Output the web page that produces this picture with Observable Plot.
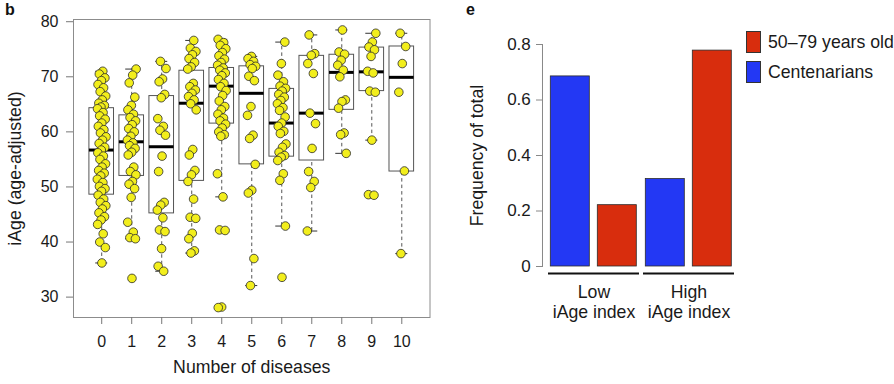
<!DOCTYPE html>
<html>
<head>
<meta charset="utf-8">
<script src="https://cdn.jsdelivr.net/npm/d3@7"></script>
<script src="https://cdn.jsdelivr.net/npm/@observablehq/plot@0.6"></script>
<style>
  body { margin: 0; background: #fff; font-family: "Liberation Sans", Arial, sans-serif; }
  #wrap { position: relative; width: 894px; height: 384px; overflow: hidden; background: #fff; }
  .panel { position: absolute; top: 0; }
  .tag { position: absolute; font-weight: bold; font-size: 16px; line-height: 16px; color: #111; }
  #legend { position: absolute; left: 746px; top: 30.7px; }
  .row { display: flex; align-items: center; height: 22px; margin-bottom: 8.3px; }
  .sw { width: 14.7px; height: 22px; box-sizing: border-box; border: 1px solid #333; margin-right: 7.3px; }
  .lab { font-size: 17.7px; line-height: 22px; color: #1a1a1a; white-space: nowrap; }
</style>
</head>
<body>
<div id="wrap">
  <div id="left" class="panel" style="left:0px"></div>
  <div id="right" class="panel" style="left:444px"></div>
  <div class="tag" style="left:5px;top:1.5px">b</div>
  <div class="tag" style="left:466px;top:1.5px">e</div>
  <div id="legend"></div>
</div>
<script>
const FONT = '"Liberation Sans", Arial, sans-serif';

// ---------- Panel b: iAge (age-adjusted) by number of diseases ----------
const diseaseCounts = [0, 1, 2, 3, 4, 5, 6, 7, 8, 9, 10];

const iAge0 = [71.0, 70.5, 69.8, 69.3, 68.6, 68.0, 67.3, 66.5, 65.8, 65.2, 64.8, 64.5, 64.2, 63.5, 62.9, 62.3, 61.6, 61.0, 60.4, 59.8, 59.1, 58.5, 57.9, 57.2, 56.7, 56.2, 55.6, 55.0, 54.2, 53.6, 53.0, 52.5, 52.0, 51.4, 50.8, 50.1, 49.7, 49.2, 48.5, 47.8, 47.2, 46.6, 46.0, 45.3, 44.6, 44.0, 43.2, 41.5, 40.0, 39.0, 36.2];
const iAge1 = [71.4, 70.3, 68.9, 66.3, 64.8, 64.0, 63.2, 62.6, 62.0, 61.3, 60.6, 60.0, 59.2, 58.5, 58.0, 57.5, 57.0, 56.3, 55.8, 53.6, 52.8, 52.2, 51.0, 50.5, 49.7, 48.1, 43.6, 41.8, 40.8, 40.6, 33.4];
const iAge2 = [72.8, 71.5, 69.6, 69.1, 66.8, 66.2, 62.4, 61.0, 60.3, 59.4, 55.6, 52.8, 47.2, 46.7, 45.8, 44.4, 42.2, 41.9, 38.8, 35.6, 34.7];
const iAge3 = [76.6, 75.2, 74.6, 74.0, 73.3, 72.6, 71.8, 71.4, 68.8, 68.2, 67.6, 67.0, 66.4, 65.8, 65.1, 64.0, 56.8, 55.8, 53.0, 52.2, 51.0, 47.8, 44.5, 44.3, 41.6, 40.6, 38.4, 38.0];
const iAge4 = [76.8, 76.2, 75.7, 75.1, 74.4, 73.8, 73.2, 72.6, 72.1, 71.6, 71.2, 70.7, 70.2, 69.5, 68.8, 68.2, 67.5, 66.6, 65.6, 64.6, 64.0, 63.2, 62.5, 62.0, 61.4, 60.7, 60.0, 59.5, 59.2, 52.4, 48.2, 42.2, 42.1, 28.2, 28.1];
const iAge5 = [73.7, 73.3, 72.8, 72.2, 71.9, 71.5, 70.1, 69.3, 64.6, 63.0, 59.4, 58.8, 54.1, 49.4, 48.9, 37.0, 32.1];
const iAge6 = [76.3, 72.4, 70.3, 69.1, 68.3, 67.9, 67.4, 66.8, 66.3, 65.7, 65.1, 64.4, 63.9, 62.7, 61.6, 61.0, 60.1, 59.7, 57.8, 57.2, 56.3, 55.7, 55.4, 54.8, 52.4, 51.2, 42.9, 33.6];
const iAge7 = [77.6, 74.2, 73.9, 72.4, 70.6, 63.4, 61.5, 57.0, 52.8, 51.0, 49.9, 42.0];
const iAge8 = [78.5, 74.5, 74.1, 73.0, 72.1, 71.2, 70.0, 65.8, 65.5, 64.3, 59.8, 59.5, 56.1];
const iAge9 = [77.9, 76.3, 75.4, 74.9, 73.7, 71.0, 70.7, 67.4, 67.2, 58.5, 48.6, 48.5];
const iAge10 = [77.9, 75.5, 72.4, 67.2, 52.9, 37.9];
const iAgeByCount = [iAge0, iAge1, iAge2, iAge3, iAge4, iAge5, iAge6, iAge7, iAge8, iAge9, iAge10];

const boxQ1 = [48.6, 52.0, 45.2, 51.1, 61.5, 54.1, 55.5, 54.8, 64.0, 67.4, 52.8];
const boxMedian = [56.7, 58.2, 57.3, 65.2, 68.3, 67.0, 61.6, 63.4, 70.8, 70.9, 69.9];
const boxQ3 = [64.3, 63.0, 66.5, 71.1, 71.6, 71.9, 67.8, 73.8, 74.0, 75.3, 75.5];
const whiskerLow = [36.2, 40.6, 34.7, 38.0, 48.2, 32.1, 42.9, 42.0, 56.1, 58.5, 37.9];
const whiskerHigh = [71.0, 71.4, 72.8, 76.6, 76.8, 73.7, 76.3, 77.6, 78.5, 77.9, 77.9];
const iAgeTicks = [30, 40, 50, 60, 70, 80];

// deterministic horizontal spread of the dots (position only)
const spread = (i, j) => ((((j + 1) * 0.6180339887 + i * 0.37) % 1) - 0.5) * 0.3;

const boxes = diseaseCounts.map((n, i) => ({
  n, q1: boxQ1[i], med: boxMedian[i], q3: boxQ3[i], lo: whiskerLow[i], hi: whiskerHigh[i]
}));
const dots = diseaseCounts.flatMap((n, i) => iAgeByCount[i].map((v, j) => ({n, v, xj: n + spread(i, j)})));

const leftPlot = Plot.plot({
  width: 445, height: 384,
  marginLeft: 73, marginRight: 15.5, marginTop: 19, marginBottom: 67,
  style: {fontSize: "16px", fontFamily: FONT, color: "#1a1a1a", background: "transparent"},
  x: {domain: [-0.94, 10.94]},
  y: {domain: [26.3, 80.4]},
  marks: [
    Plot.ruleX(boxes, {x: "n", y1: "lo", y2: "q1", stroke: "#555", strokeDasharray: "3.5,3"}),
    Plot.ruleX(boxes, {x: "n", y1: "q3", y2: "hi", stroke: "#555", strokeDasharray: "3.5,3"}),
    Plot.ruleY(boxes, {y: "lo", x1: d => d.n - 0.2, x2: d => d.n + 0.2, stroke: "#333"}),
    Plot.ruleY(boxes, {y: "hi", x1: d => d.n - 0.2, x2: d => d.n + 0.2, stroke: "#333"}),
    Plot.rect(boxes, {x1: d => d.n - 0.41, x2: d => d.n + 0.41, y1: "q1", y2: "q3", fill: "white", stroke: "#555", strokeWidth: 1}),
    Plot.ruleY(boxes, {y: "med", x1: d => d.n - 0.41, x2: d => d.n + 0.41, stroke: "#000", strokeWidth: 3}),
    Plot.dot(dots, {x: "xj", y: "v", r: 4.3, fill: "#F2EE1C", stroke: "#2a2a2a", strokeWidth: 0.8}),
    Plot.frame({stroke: "#8c8c8c"}),
    Plot.axisX({ticks: diseaseCounts, tickSize: 7, tickPadding: 11, stroke: "#777", label: null, tickFormat: d => String(d)}),
    Plot.axisY({ticks: iAgeTicks, tickSize: 7, tickPadding: 8, stroke: "#777", label: null, tickFormat: d => String(d)}),
    Plot.text(["Number of diseases"], {frameAnchor: "bottom", textAnchor: "middle", lineAnchor: "bottom", dy: 55.7, fontSize: 17.7, fill: "#1a1a1a"}),
    Plot.text(["iAge (age-adjusted)"], {frameAnchor: "left", textAnchor: "middle", rotate: -90, lineAnchor: "bottom", dx: -52.6, fontSize: 17.7, fill: "#1a1a1a"})
  ]
});
document.getElementById("left").appendChild(leftPlot);

// ---------- Panel e: frequency of total by iAge index ----------
const iAgeGroups = ["Low", "High"];
const groupLabels = ["Low\niAge index", "High\niAge index"];
const cohorts = ["Centenarians", "50–79 years old"];
const cohortColors = ["#2338F4", "#D82D0D"];
const centenarianFreq = [0.685, 0.315];
const midlifeFreq = [0.221, 0.778];
const freqTicks = [0, 0.2, 0.4, 0.6, 0.8];
const legendOrder = ["50–79 years old", "Centenarians"];

const barData = iAgeGroups.flatMap((g, i) => [
  {group: g, cohort: cohorts[0], value: centenarianFreq[i]},
  {group: g, cohort: cohorts[1], value: midlifeFreq[i]}
]);

const rightPlot = Plot.plot({
  width: 450, height: 384,
  marginLeft: 103.7, marginRight: 159, marginTop: 44, marginBottom: 118,
  style: {fontSize: "17px", fontFamily: FONT, color: "#1a1a1a", background: "transparent"},
  fx: {domain: iAgeGroups, paddingInner: 0.042, paddingOuter: 0},
  x: {domain: cohorts, paddingInner: 0.18, paddingOuter: 0.05, axis: null},
  y: {domain: [0, 0.8]},
  color: {domain: cohorts, range: cohortColors},
  marks: [
    Plot.barY(barData, {fx: "group", x: "cohort", y: "value", fill: "cohort", stroke: "#2b2b2b", strokeWidth: 0.8}),
    Plot.ruleY([0], {dy: 7, stroke: "#111", strokeWidth: 2.2}),
    Plot.frame({anchor: "left", facetAnchor: "left", dx: -6, stroke: "#888"}),
    Plot.axisY({ticks: freqTicks, tickSize: 6, tickPadding: 5.7, dx: -6, stroke: "#888", label: null,
      tickFormat: d => d === 0 ? "0" : d.toFixed(1)}),
    Plot.axisFx({anchor: "bottom", tickSize: 0, tickPadding: 17, label: null, lineHeight: 1.13, fontSize: 17.7,
      tickFormat: g => groupLabels[iAgeGroups.indexOf(g)]}),
    Plot.text(["Frequency of total"], {frameAnchor: "left", facetAnchor: "left", textAnchor: "middle", rotate: -90, lineAnchor: "bottom",
      dx: -65.8, fontSize: 17.7, fill: "#1a1a1a"})
  ]
});
document.getElementById("right").appendChild(rightPlot);

// legend
const legend = document.getElementById("legend");
legendOrder.forEach(name => {
  const row = document.createElement("div");
  row.className = "row";
  const sw = document.createElement("div");
  sw.className = "sw";
  sw.style.background = cohortColors[cohorts.indexOf(name)];
  const lab = document.createElement("div");
  lab.className = "lab";
  lab.textContent = name;
  row.appendChild(sw); row.appendChild(lab);
  legend.appendChild(row);
});
</script>
</body>
</html>
